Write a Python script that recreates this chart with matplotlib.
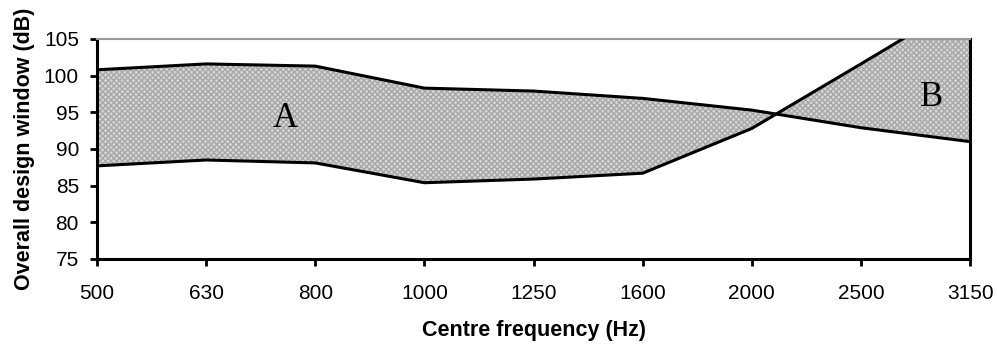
import matplotlib.pyplot as plt
import numpy as np

# Third-octave band centre frequencies and the two limit curves (dB)
freq_labels = ['500', '630', '800', '1000', '1250', '1600', '2000', '2500', '3150']
upper_limit = [100.8, 101.6, 101.3, 98.3, 97.9, 96.9, 95.3, 92.9, 91.0]
lower_limit = [87.7, 88.5, 88.1, 85.4, 85.9, 86.7, 92.8, 101.6, 110.5]

plt.rcParams['font.family'] = ['Liberation Sans', 'DejaVu Sans']

fig = plt.figure(figsize=(9.97, 3.45), dpi=100)
ax = fig.add_axes([0.0973, 0.2493, 0.8757, 0.6377])

x = np.arange(len(freq_labels))
upper = np.array(upper_limit)
lower = np.array(lower_limit)

# Shaded windows: A where upper > lower, B where the curves cross over
ax.fill_between(x, lower, upper, where=upper >= lower, interpolate=True,
                facecolor='#d6d6d6', edgecolor='#a8a8a8', hatch='xxxxxx',
                linewidth=0, zorder=1)
ax.fill_between(x, upper, lower, where=lower >= upper, interpolate=True,
                facecolor='#d6d6d6', edgecolor='#a8a8a8', hatch='xxxxxx',
                linewidth=0, zorder=1)

ax.plot(x, upper, color='black', linewidth=2.2, zorder=3)
ax.plot(x, lower, color='black', linewidth=2.2, zorder=3)

ax.set_xlim(0, len(freq_labels) - 1)
ax.set_ylim(75, 105)
ax.set_xticks(x)
ax.set_xticklabels(freq_labels)
ax.set_yticks(np.arange(75, 106, 5))
ax.tick_params(axis='both', labelsize=15, direction='out', length=5,
               width=2, colors='black')
ax.tick_params(axis='x', pad=13)
ax.tick_params(axis='y', pad=8)

for side in ['left', 'bottom', 'right']:
    ax.spines[side].set_linewidth(2.2)
    ax.spines[side].set_color('black')
ax.spines['top'].set_color('#9a9a9a')
ax.spines['top'].set_linewidth(1.5)
ax.spines['top'].set_linestyle((0, (1, 1)))

ax.text(1.72, 94.2, 'A', family='Liberation Serif', fontsize=25,
        ha='center', va='center', zorder=4)
ax.text(7.65, 97.0, 'B', family='Liberation Serif', fontsize=25,
        ha='center', va='center', zorder=4)

ax.set_xlabel('Centre frequency (Hz)', fontsize=15.5, fontweight='bold', labelpad=12)
ax.set_ylabel('Overall design window (dB)', fontsize=15.5, fontweight='bold', labelpad=6)

fig.savefig('out.png', dpi=100)
